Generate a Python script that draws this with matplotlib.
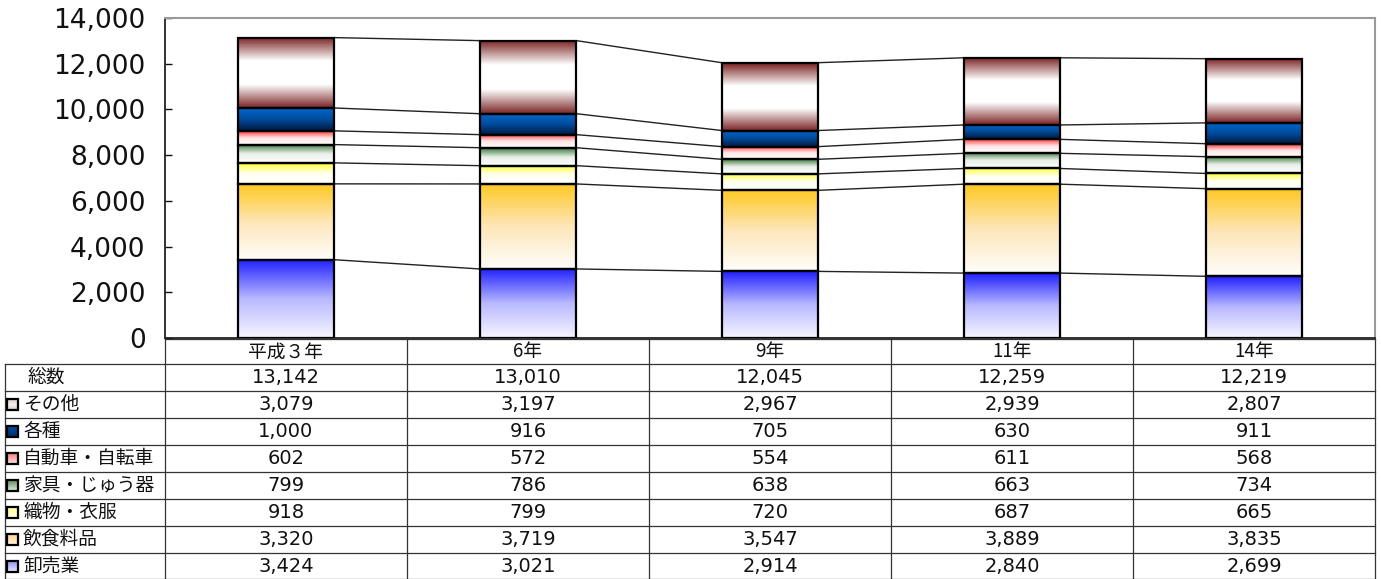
import numpy as np
import matplotlib
matplotlib.use('Agg')
import matplotlib.pyplot as plt
from matplotlib.colors import LinearSegmentedColormap
from matplotlib.ticker import FuncFormatter

# ---------------- data ----------------
categories = ['平成３年', '6年', '9年', '11年', '14年']
series_names = ['卸売業', '飲食料品', '織物・衣服', '家具・じゅう器', '自動車・自転車', '各種', 'その他']
oroshi = [3424, 3021, 2914, 2840, 2699]
inshoku = [3320, 3719, 3547, 3889, 3835]
orimono = [918, 799, 720, 687, 665]
kagu = [799, 786, 638, 663, 734]
jidousha = [602, 572, 554, 611, 568]
kakushu = [1000, 916, 705, 630, 911]
sonota = [3079, 3197, 2967, 2939, 2807]
totals = [13142, 13010, 12045, 12259, 12219]
table_order = ['その他', '各種', '自動車・自転車', '家具・じゅう器', '織物・衣服', '飲食料品', '卸売業']

series_values = [oroshi, inshoku, orimono, kagu, jidousha, kakushu, sonota]

# bar gradients, listed bottom -> top
gradients = {
    '卸売業': ['#f6f6ff', '#b8b8ff', '#2020ff'],
    '飲食料品': ['#fffefc', '#fde6b8', '#ffc820'],
    '織物・衣服': ['#ffffff', '#fffff0', '#ffff30'],
    '家具・じゅう器': ['#ffffff', '#e8efe8', '#3c7a3c'],
    '自動車・自転車': ['#ffffff', '#ffe6e6', '#ff3c3c'],
    '各種': ['#00183c', '#004a9a', '#0068cc'],
    'その他': ['#7a2222', '#ffffff', '#ffffff', '#7a2222'],
}
# legend-key gradients, bottom -> top
key_gradients = {
    '卸売業': ['#e4e4ff', '#8888ff'],
    '飲食料品': ['#fff4e0', '#ffd488'],
    '織物・衣服': ['#ffffe8', '#ffff90'],
    '家具・じゅう器': ['#e4ece4', '#5c8c5c'],
    '自動車・自転車': ['#ffe4e4', '#ff7a7a'],
    '各種': ['#002a66', '#0050a8'],
    'その他': ['#d8c4c4', '#f6f0f0', '#d8c4c4'],
}
cmaps = {k: LinearSegmentedColormap.from_list(k, v) for k, v in gradients.items()}
key_cmaps = {k: LinearSegmentedColormap.from_list('k' + k, v) for k, v in key_gradients.items()}
grad_img = np.linspace(0, 1, 256).reshape(-1, 1)

num_font = 'DejaVu Sans'
jp_font = ['Noto Sans CJK JP', 'DejaVu Sans']

W, H = 1381, 579
fig = plt.figure(figsize=(W / 100, H / 100), dpi=100)
fig.patch.set_facecolor('white')

ax_left, ax_right, ax_top, ax_bot = 165, 1375, 18, 338
ax = fig.add_axes([ax_left / W, 1 - ax_bot / H, (ax_right - ax_left) / W, (ax_bot - ax_top) / H])

x = np.arange(len(categories))
bottom = np.zeros(len(categories))
bar_containers = []
for name, vals in zip(series_names, series_values):
    bc = ax.bar(x, vals, width=0.4, bottom=bottom, facecolor='none',
                edgecolor='black', linewidth=1.6, zorder=3)
    for p in bc.patches:
        x0, y0 = p.get_x(), p.get_y()
        ax.imshow(grad_img, cmap=cmaps[name], origin='lower', aspect='auto',
                  extent=(x0, x0 + p.get_width(), y0, y0 + p.get_height()),
                  zorder=2, interpolation='bilinear')
    bar_containers.append(bc)
    bottom = bottom + np.array(vals)

# series lines
for bc in bar_containers:
    ps = bc.patches
    for a, b in zip(ps[:-1], ps[1:]):
        ax.plot([a.get_x() + a.get_width(), b.get_x()],
                [a.get_y() + a.get_height(), b.get_y() + b.get_height()],
                color='#222222', linewidth=1.0, zorder=1.5)

ax.set_xlim(-0.5, len(categories) - 0.5)
ax.set_ylim(0, 14000)
ax.set_yticks(np.arange(0, 14001, 2000))
ax.yaxis.set_major_formatter(FuncFormatter(lambda v, _: f'{int(v):,}'))
ax.set_xticks([])
ax.tick_params(axis='y', direction='in', length=5, width=1, pad=14,
               labelsize=19, colors='#111111')
for lab in ax.get_yticklabels():
    lab.set_fontfamily(num_font)
for s in ['top', 'right']:
    ax.spines[s].set_color('#9a9a9a')
    ax.spines[s].set_linewidth(1.5)
for s in ['left', 'bottom']:
    ax.spines[s].set_color('#222222')
    ax.spines[s].set_linewidth(1.3)

# ---------------- data table ----------------
tab = fig.add_axes([0, 0, 1, 1], zorder=-1)
tab.set_xlim(0, W)
tab.set_ylim(H, 0)
tab.axis('off')

col_edges = np.linspace(ax_left, ax_right, len(categories) + 1)
row_edges = [339, 364, 391, 418, 445, 472, 499, 526, 553, 579]
lc = '#333333'
lw = 0.9
tab.plot([ax_left, ax_right], [row_edges[0]] * 2, color=lc, lw=lw)
for y in row_edges[1:]:
    tab.plot([5, ax_right], [y, y], color=lc, lw=lw)
for xe in col_edges:
    tab.plot([xe, xe], [row_edges[0], H], color=lc, lw=lw)
tab.plot([5, 5], [row_edges[1], H], color=lc, lw=lw)

def cy(i):
    return (row_edges[i] + row_edges[i + 1]) / 2

for j, c in enumerate(categories):
    tab.text((col_edges[j] + col_edges[j + 1]) / 2, cy(0) + 0.5, c, ha='center', va='center',
             fontsize=13.5, family=jp_font, color='#111111')

tab.text(27, cy(1), '総数', ha='left', va='center', fontsize=13.5, family=jp_font, color='#111111')
for j, v in enumerate(totals):
    tab.text((col_edges[j] + col_edges[j + 1]) / 2, cy(1), f'{v:,}', ha='center', va='center',
             fontsize=14, family=num_font, color='#111111')

lookup = dict(zip(series_names, series_values))
for i, name in enumerate(table_order):
    r = i + 2
    yc = cy(r)
    tab.imshow(grad_img, cmap=key_cmaps[name], origin='upper', aspect='auto',
               extent=(7, 18, yc - 5.5, yc + 5.5), zorder=2)
    tab.add_patch(plt.Rectangle((7, yc - 5.5), 11, 11, fill=False, edgecolor='black', lw=1.6, zorder=3))
    tab.text(23, yc, name, ha='left', va='center', fontsize=13.5, family=jp_font, color='#111111')
    for j, v in enumerate(lookup[name]):
        tab.text((col_edges[j] + col_edges[j + 1]) / 2, yc, f'{v:,}', ha='center', va='center',
                 fontsize=14, family=num_font, color='#111111')
tab.set_xlim(0, W)
tab.set_ylim(H, 0)

fig.savefig('out.png', dpi=100, facecolor='white')
